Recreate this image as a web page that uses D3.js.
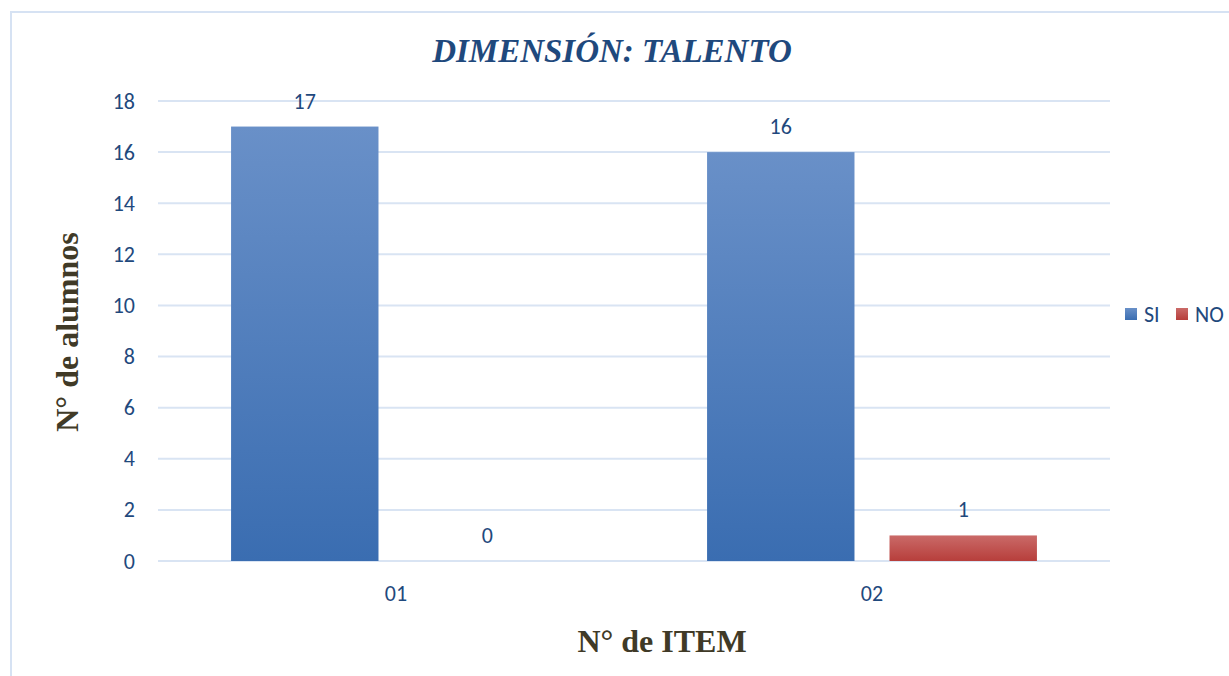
<!DOCTYPE html>
<html><head><meta charset="utf-8">
<script src="https://cdn.jsdelivr.net/npm/d3@7"></script>
<style>body{margin:0;background:#fff}svg{display:block}</style>
</head><body>
<script>
const categories = ["01", "02"];
const seriesNames = ["SI", "NO"];
const siValues = [17, 16];
const noValues = [0, 1];
const yTicks = [0, 2, 4, 6, 8, 10, 12, 14, 16, 18];

const W = 1229, H = 676;
const svg = d3.select("body").append("svg").attr("width", W).attr("height", H);
const defs = svg.append("defs");
function grad(id, top, bot) {
  const g = defs.append("linearGradient").attr("id", id).attr("x1", 0).attr("y1", 0).attr("x2", 0).attr("y2", 1);
  g.append("stop").attr("offset", "0%").attr("stop-color", top);
  g.append("stop").attr("offset", "100%").attr("stop-color", bot);
}
grad("gSI", "#6990C8", "#3A6DB1");
grad("gNO", "#CA6A68", "#B73E3B");
const colors = {SI: "url(#gSI)", NO: "url(#gNO)"};

const FONT = "Carlito, Calibri, 'Open Sans', sans-serif";
const SERIF = "'Liberation Serif', 'Times New Roman', serif";

// frame
svg.append("rect").attr("x", 11).attr("y", 12).attr("width", W + 20).attr("height", H + 20)
  .attr("fill", "#fff").attr("stroke", "#D6E2F3").attr("stroke-width", 2);

const m = {left: 158, right: 1110, top: 101, bottom: 561};
const x0 = d3.scaleBand().domain(categories).range([m.left, m.right]).paddingInner(0.307).paddingOuter(0.1535);
const x1 = d3.scaleBand().domain(seriesNames).range([0, x0.bandwidth()]).paddingInner(0.192);
const y = d3.scaleLinear().domain([0, 18]).range([m.bottom, m.top]);

// gridlines
svg.append("g").selectAll("line").data(yTicks).join("line")
  .attr("x1", m.left).attr("x2", m.right)
  .attr("y1", d => y(d)).attr("y2", d => y(d))
  .attr("stroke", "#D9E4F3").attr("stroke-width", 2);

// y axis labels
const yAxis = d3.axisLeft(y).tickValues(yTicks).tickSize(0).tickPadding(0);
const ya = svg.append("g").attr("transform", `translate(135,0)`).call(yAxis);
ya.select(".domain").remove();
ya.selectAll("text").attr("font-family", FONT).attr("font-size", 22).attr("fill", "#1F497D");

// x axis labels
const xAxis = d3.axisBottom(x0).tickSize(0).tickPadding(0);
const xa = svg.append("g").attr("transform", `translate(0,${m.bottom + 24})`).call(xAxis);
xa.select(".domain").remove();
xa.selectAll("text").attr("font-family", FONT).attr("font-size", 22).attr("fill", "#1F497D");

const data = categories.map((c, i) => ({cat: c, vals: [{s: "SI", v: siValues[i]}, {s: "NO", v: noValues[i]}]}));
const groups = svg.append("g").selectAll("g").data(data).join("g")
  .attr("transform", d => `translate(${x0(d.cat)},0)`);
groups.selectAll("rect").data(d => d.vals).join("rect")
  .attr("x", d => x1(d.s)).attr("width", x1.bandwidth())
  .attr("y", d => y(d.v)).attr("height", d => y(0) - y(d.v))
  .attr("fill", d => colors[d.s]);
groups.selectAll("text").data(d => d.vals).join("text")
  .attr("x", d => x1(d.s) + x1.bandwidth() / 2)
  .attr("y", d => y(d.v) - 18)
  .attr("text-anchor", "middle")
  .attr("font-family", FONT).attr("font-size", 22).attr("fill", "#1F497D")
  .text(d => d.v);

// title
svg.append("text").attr("x", 612).attr("y", 62).attr("text-anchor", "middle")
  .attr("font-family", SERIF).attr("font-style", "italic").attr("font-weight", "bold")
  .attr("font-size", 33).attr("fill", "#1F497D").text("DIMENSIÓN: TALENTO");

// axis titles
svg.append("text").attr("transform", "translate(78,332) rotate(-90)").attr("text-anchor", "middle")
  .attr("font-family", SERIF).attr("font-weight", "bold")
  .attr("font-size", 32).attr("fill", "#403A27").text("N° de alumnos");
svg.append("text").attr("x", 662).attr("y", 652).attr("text-anchor", "middle")
  .attr("font-family", SERIF).attr("font-weight", "bold")
  .attr("font-size", 32).attr("fill", "#403A27").text("N° de ITEM");

// legend
const leg = svg.append("g").selectAll("g").data(seriesNames).join("g")
  .attr("transform", (d, i) => `translate(${i === 0 ? 1125 : 1176},308)`);
leg.append("rect").attr("width", 12).attr("height", 12).attr("fill", d => colors[d]);
leg.append("text").attr("x", 19).attr("y", 14)
  .attr("font-family", FONT).attr("font-size", 22).attr("fill", "#1F497D")
  .text(d => d);
</script>
</body></html>
